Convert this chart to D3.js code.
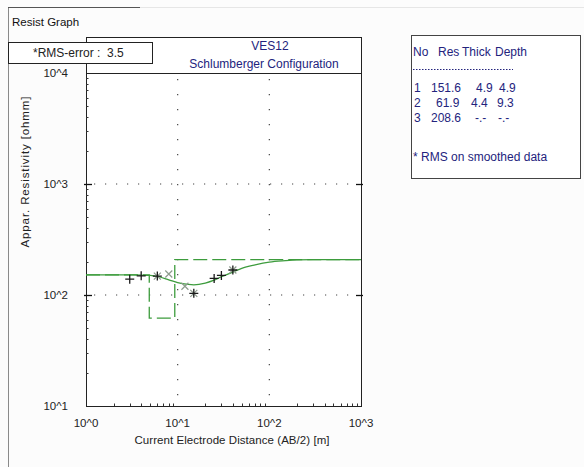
<!DOCTYPE html>
<html><head><meta charset="utf-8">
<script src="https://cdn.jsdelivr.net/npm/d3@7"></script>
<style>
html,body{margin:0;padding:0;background:#fcfcfc;}
svg{display:block;font-family:"Liberation Sans",Arial,sans-serif;}
</style></head>
<body>
<svg id="c" width="584" height="467"></svg>
<script>
// ---- data ----
const xTickLabels = ["10^0","10^1","10^2","10^3"];
const yTickLabels = ["10^1","10^2","10^3","10^4"];
const xTickValues = [1,10,100,1000];
const yTickValues = [10,100,1000,10000];
// observed apparent resistivity (+)
const obsAB  = [3, 4, 6, 15, 25, 30, 40];
const obsRho = [139, 149, 148, 103.5, 141, 150, 168];
// smoothed data (x)
const smAB  = [6, 8, 12, 15, 40];
const smRho = [148, 154.5, 120, 103.5, 168];
// model response curve
const curveAB  = [1,2,3,4,5,6,8,10,13,15,20,25,30,40,50,70,100,150,200,300,500,1000];
const curveRho = [151.6,151.6,151.6,151.3,150,147,137,129,124.5,123.5,128,136,146,161,174,187,198,204,207,208.3,208.6,208.6];
// layer model
const layerNo    = [1,2,3];
const layerRes   = [151.6, 61.9, 208.6];
const layerThick = ["4.9","4.4","-.-"];
const layerDepth = ["4.9","9.3","-.-"];
const depthVals  = [4.9, 9.3];
const rmsError = "3.5";

// ---- layout ----
const svg = d3.select("#c");
const L = 86, R = 361, T = 73, B = 406, HT = 37;
const x = d3.scaleLog().domain([1,1000]).range([L,R]);
const y = d3.scaleLog().domain([10,10000]).range([B,T]);
const navy = "#23237d", green = "#3d9c3d";

// window frame
svg.append("line").attr("x1",8.5).attr("x2",8.5).attr("y1",7).attr("y2",467).attr("stroke","#8a8a8a");
svg.append("line").attr("x1",8).attr("x2",140).attr("y1",7.5).attr("y2",7.5).attr("stroke","#555");
svg.append("line").attr("x1",140).attr("x2",584).attr("y1",7.5).attr("y2",7.5).attr("stroke","#e6e6e6");
svg.append("text").attr("x",12).attr("y",26).attr("font-size",11.5).attr("fill","#111").text("Resist Graph");

// plot frame + header
svg.append("rect").attr("x",L+0.5).attr("y",HT+0.5).attr("width",R-L).attr("height",T-HT).attr("fill","#fff").attr("stroke","#222");
svg.append("rect").attr("x",L+0.5).attr("y",T+0.5).attr("width",R-L).attr("height",B-T).attr("fill","#fff").attr("stroke","#222");
svg.append("text").attr("x",270).attr("y",50).attr("text-anchor","middle").attr("font-size",12).attr("fill",navy).text("VES12");
svg.append("text").attr("x",264).attr("y",68).attr("text-anchor","middle").attr("font-size",12).attr("fill",navy).text("Schlumberger Configuration");

// grid (dotted)
const g = svg.append("g");
[10,100].forEach(v=>{
  g.append("line").attr("x1",x(v)).attr("x2",x(v)).attr("y1",T+6).attr("y2",B-4)
   .attr("stroke","#444").attr("stroke-width",1.2).attr("stroke-dasharray","1.2,13.8");
});
[100,1000].forEach(v=>{
  g.append("line").attr("x1",L+8).attr("x2",R-4).attr("y1",y(v)).attr("y2",y(v))
   .attr("stroke","#444").attr("stroke-width",1.2).attr("stroke-dasharray","1.2,9.8");
});

// ticks
const minorY = [], minorX = [];
[10,100,1000].forEach(d=>{for(let k=2;k<=9;k++) minorY.push(d*k);});
[1,10,100].forEach(d=>{for(let k=2;k<=9;k++) minorX.push(d*k);});
minorY.forEach(v=>g.append("line").attr("x1",L).attr("x2",L+2.5).attr("y1",Math.round(y(v))+0.5).attr("y2",Math.round(y(v))+0.5).attr("stroke","#333"));
minorX.forEach(v=>g.append("line").attr("x1",Math.round(x(v))+0.5).attr("x2",Math.round(x(v))+0.5).attr("y1",B).attr("y2",B-2.5).attr("stroke","#333"));
[100,1000].forEach(v=>{
  g.append("line").attr("x1",L-2).attr("x2",L+6).attr("y1",Math.round(y(v))+0.5).attr("y2",Math.round(y(v))+0.5).attr("stroke","#111").attr("stroke-width",1.3);
  g.append("line").attr("x1",R-5).attr("x2",R+2).attr("y1",Math.round(y(v))+0.5).attr("y2",Math.round(y(v))+0.5).attr("stroke","#111").attr("stroke-width",1.3);
});

// axis tick labels via scales
svg.append("g").selectAll("text").data(yTickValues).join("text")
  .attr("x",68).attr("y",d=>y(d)+4).attr("text-anchor","end").attr("font-size",11.5).attr("fill","#222")
  .text((d,i)=>yTickLabels[i]);
svg.append("g").selectAll("text").data(xTickValues).join("text")
  .attr("x",d=>x(d)).attr("y",427).attr("text-anchor","middle").attr("font-size",11.5).attr("fill","#222")
  .text((d,i)=>xTickLabels[i]);

svg.append("text").attr("x",232).attr("y",444).attr("text-anchor","middle").attr("font-size",11.5).attr("fill","#222")
  .attr("textLength",195).text("Current Electrode Distance (AB/2) [m]");
svg.append("text").attr("transform","translate(29,172) rotate(-90)").attr("text-anchor","middle").attr("font-size",11.5).attr("fill","#222")
  .attr("textLength",151).text("Appar. Resistivity [ohmm]");

// clip
svg.append("clipPath").attr("id","clip").append("rect").attr("x",L).attr("y",T).attr("width",R-L).attr("height",B-T);
const p = svg.append("g").attr("clip-path","url(#clip)");

// layer model (dashed step)
const steps = [[1,layerRes[0]],[depthVals[0],layerRes[0]],[depthVals[0],layerRes[1]],[depthVals[1],layerRes[1]],[depthVals[1],layerRes[2]],[1000,layerRes[2]]];
p.append("path").attr("d",d3.line().x(d=>x(d[0])).y(d=>y(d[1]))(steps))
  .attr("fill","none").attr("stroke",green).attr("stroke-width",1.3).attr("stroke-dasharray","14,5");

// model curve
const cpts = curveAB.map((a,i)=>[a,curveRho[i]]);
p.append("path").attr("d",d3.line().x(d=>x(d[0])).y(d=>y(d[1])).curve(d3.curveMonotoneX)(cpts))
  .attr("fill","none").attr("stroke",green).attr("stroke-width",1.3);

// smoothed data x
smAB.forEach((a,i)=>{
  const cx=x(a), cy=y(smRho[i]), s=3.5;
  p.append("path").attr("d",`M${cx-s},${cy-s}L${cx+s},${cy+s}M${cx-s},${cy+s}L${cx+s},${cy-s}`)
   .attr("stroke","#8d9c8d").attr("stroke-width",1.2).attr("fill","none");
});
// observed +
obsAB.forEach((a,i)=>{
  const cx=x(a), cy=y(obsRho[i]), s=4.5;
  p.append("path").attr("d",`M${cx-s},${cy}L${cx+s},${cy}M${cx},${cy-s}L${cx},${cy+s}`)
   .attr("stroke","#1a1a1a").attr("stroke-width",1.3).attr("fill","none");
});

// RMS box
svg.append("rect").attr("x",8.5).attr("y",42.5).attr("width",144).attr("height",21).attr("fill","#fff").attr("stroke","#222");
svg.append("text").attr("x",33).attr("y",57).attr("font-size",12).attr("fill","#222").attr("xml:space","preserve").text("*RMS-error :  " + rmsError);

// legend table
svg.append("rect").attr("x",411.5).attr("y",35.5).attr("width",169).attr("height",143).attr("fill","#fff").attr("stroke","#444");
const lg = svg.append("g").attr("font-size",12).attr("fill",navy);
lg.append("text").attr("x",413).attr("y",56).text("No");
lg.append("text").attr("x",438).attr("y",56).text("Res");
lg.append("text").attr("x",462).attr("y",56).text("Thick");
lg.append("text").attr("x",495).attr("y",56).text("Depth");
svg.append("line").attr("x1",413).attr("x2",513).attr("y1",69.5).attr("y2",69.5).attr("stroke",navy).attr("stroke-dasharray","1.5,1.5");
const rowY = [92,107,122];
const resX = [431,436,431], thickX = [476,471,475], depthX = [499,497,498];
layerNo.forEach((n,i)=>{
  lg.append("text").attr("x",414).attr("y",rowY[i]).text(n);
  lg.append("text").attr("x",resX[i]).attr("y",rowY[i]).text(layerRes[i].toFixed(1));
  lg.append("text").attr("x",thickX[i]).attr("y",rowY[i]).text(layerThick[i]);
  lg.append("text").attr("x",depthX[i]).attr("y",rowY[i]).text(layerDepth[i]);
});
lg.append("text").attr("x",413).attr("y",161).text("* RMS on smoothed data");
</script>
</body></html>
